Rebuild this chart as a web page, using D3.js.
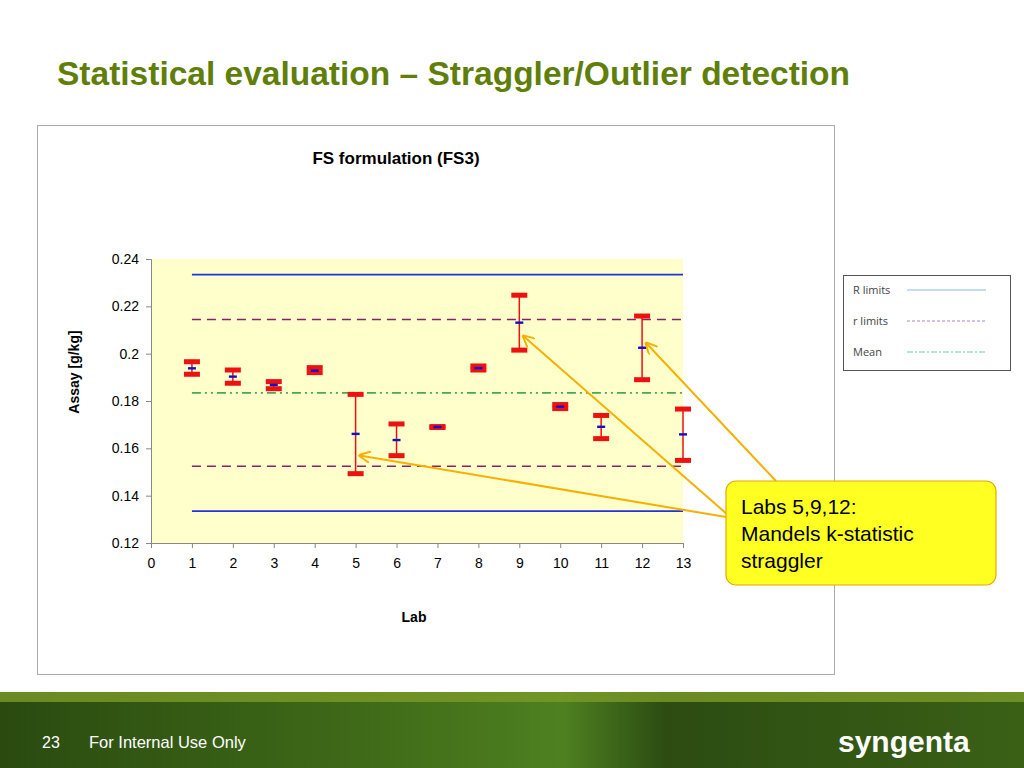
<!DOCTYPE html><html><head><meta charset="utf-8"><script src="https://cdn.jsdelivr.net/npm/d3@7"></script>
<style>body{margin:0;background:#fff}svg{display:block}</style></head><body>
<svg id="s" width="1024" height="768"></svg>
<script>
const labs=[1,2,3,4,5,6,7,8,9,10,11,12,13];
const upper=[0.1966,0.1931,0.1882,0.1941,0.1828,0.1703,0.1692,0.1948,0.2247,0.1785,0.1739,0.2159,0.1766];
const lower=[0.1913,0.1875,0.1852,0.1920,0.1493,0.1569,0.1688,0.1931,0.2015,0.1768,0.1641,0.1890,0.1549];
const means=[0.1938,0.1903,0.1868,0.1928,0.1661,0.1635,0.1690,0.1939,0.2131,0.1776,0.1691,0.2025,0.1659];
const RLimits=[0.1335,0.2334], rLimits=[0.1524,0.2144], grandMean=0.1834;
const xTicks=d3.range(0,14), yTicks=[0.12,0.14,0.16,0.18,0.2,0.22,0.24];
const svg=d3.select("#s");
const F="Liberation Sans, Arial, sans-serif";
const g=svg.append("defs").append("linearGradient").attr("id","fg");
[["0%","#2a4a10"],["35%","#3f6a18"],["55%","#4e8020"],["65%","#2c4c12"],["100%","#3a6016"]].forEach(s=>g.append("stop").attr("offset",s[0]).attr("stop-color",s[1]));
svg.append("rect").attr("x",0).attr("y",692).attr("width",1024).attr("height",76).attr("fill","url(#fg)");
svg.append("rect").attr("x",0).attr("y",692).attr("width",1024).attr("height",10).attr("fill","#7a9a28").attr("opacity",0.8);
svg.append("text").attr("x",42).attr("y",748).attr("fill","#fff").attr("font-family",F).attr("font-size",16).text("23");
svg.append("text").attr("x",89).attr("y",748).attr("fill","#fff").attr("font-family",F).attr("font-size",16.5).text("For Internal Use Only");
svg.append("text").attr("x",838).attr("y",752).attr("fill","#fff").attr("font-family",F).attr("font-weight","bold").attr("font-size",30).text("syngenta");
svg.append("text").attr("x",57).attr("y",85).attr("fill","#5f7f0a").attr("font-family",F).attr("font-weight","bold").attr("font-size",33.5).text("Statistical evaluation – Straggler/Outlier detection");
svg.append("rect").attr("x",37.5).attr("y",125.5).attr("width",797).attr("height",549).attr("fill","#fff").attr("stroke","#aaa");
svg.append("text").attr("x",396).attr("y",164).attr("text-anchor","middle").attr("font-family",F).attr("font-weight","bold").attr("font-size",17).text("FS formulation (FS3)");
const x=d3.scaleLinear().domain([0,13]).range([151,683]);
const y=d3.scaleLinear().domain([0.12,0.24]).range([543,259]);
svg.append("rect").attr("x",151).attr("y",259).attr("width",532).attr("height",284).attr("fill","#ffffcc");
svg.append("g").attr("transform","translate(151,0)").call(d3.axisLeft(y).tickValues(yTicks).tickFormat(d3.format("~g")).tickSize(5))
 .call(a=>{a.selectAll("text").attr("font-family",F).attr("font-size",14).attr("fill","#000").attr("dx",-4);a.selectAll("line,path").attr("stroke","#888");});
svg.append("g").attr("transform","translate(0,543)").call(d3.axisBottom(x).tickValues(xTicks).tickSize(5))
 .call(a=>{a.selectAll("text").attr("font-family",F).attr("font-size",14).attr("fill","#000").attr("dy",17);a.selectAll("line,path").attr("stroke","#888");});
svg.append("text").attr("transform","translate(79,372) rotate(-90)").attr("text-anchor","middle").attr("font-family",F).attr("font-weight","bold").attr("font-size",14).text("Assay [g/kg]");
svg.append("text").attr("x",414).attr("y",622).attr("text-anchor","middle").attr("font-family",F).attr("font-weight","bold").attr("font-size",14).text("Lab");
const hl=(v,c,da,w)=>svg.append("line").attr("x1",x(1)).attr("x2",x(13)).attr("y1",y(v)).attr("y2",y(v)).attr("stroke",c).attr("stroke-width",w).attr("stroke-dasharray",da);
RLimits.forEach(v=>hl(v,"#2233dd",null,1.8));
rLimits.forEach(v=>hl(v,"#882266","9,6",1.5));
hl(grandMean,"#44aa55","9,4,2,4,2,4",1.8);
labs.forEach((l,i)=>{
 const cx=x(l);
 svg.append("line").attr("x1",cx).attr("x2",cx).attr("y1",y(upper[i])).attr("y2",y(lower[i])).attr("stroke","#ee1111").attr("stroke-width",1.5);
 [upper[i],lower[i]].forEach(v=>svg.append("rect").attr("x",cx-8).attr("y",y(v)-2.5).attr("width",16).attr("height",5).attr("fill","#ee1111"));
 svg.append("rect").attr("x",cx-4).attr("y",y(means[i])-1.2).attr("width",8).attr("height",2.4).attr("fill","#1111cc");
});
svg.append("rect").attr("x",843.5).attr("y",275.5).attr("width",167).attr("height",95).attr("fill","#fff").attr("stroke","#555");
[["R limits","#88bbdd",null,290],["r limits","#aa88cc","3,2",321],["Mean","#66ccaa","6,2,2,2",352]].forEach(d=>{
 svg.append("text").attr("x",853).attr("y",d[3]+4).attr("font-family","Open Sans, sans-serif").attr("font-size",11).attr("fill","#444").text(d[0]);
 svg.append("line").attr("x1",907).attr("x2",986).attr("y1",d[3]).attr("y2",d[3]).attr("stroke",d[1]).attr("stroke-width",1.2).attr("stroke-dasharray",d[2]);
});
const mk=svg.append("defs").append("marker").attr("id","ah").attr("viewBox","0 0 10 10").attr("refX",9).attr("refY",5).attr("markerWidth",6).attr("markerHeight",6).attr("orient","auto");
mk.append("path").attr("d","M0,0 L10,5 L0,10").attr("fill","none").attr("stroke","#f5b000").attr("stroke-width",1.6);
[[5,0.157,726,517],[9,0.2075,728,515],[12,0.2045,776,481]].forEach(a=>{
 svg.append("line").attr("x1",a[2]).attr("y1",a[3]).attr("x2",x(a[0])+4).attr("y2",y(a[1])).attr("stroke","#f5b000").attr("stroke-width",2).attr("marker-end","url(#ah)");
});
svg.append("rect").attr("x",726).attr("y",481).attr("width",270).attr("height",104).attr("rx",10).attr("fill","#ffff22").attr("stroke","#e8a800").attr("stroke-width",1.2);
["Labs 5,9,12:","Mandels k-statistic","straggler"].forEach((t,i)=>svg.append("text").attr("x",741).attr("y",514+i*27).attr("font-family",F).attr("font-size",21).text(t));
</script></body></html>
